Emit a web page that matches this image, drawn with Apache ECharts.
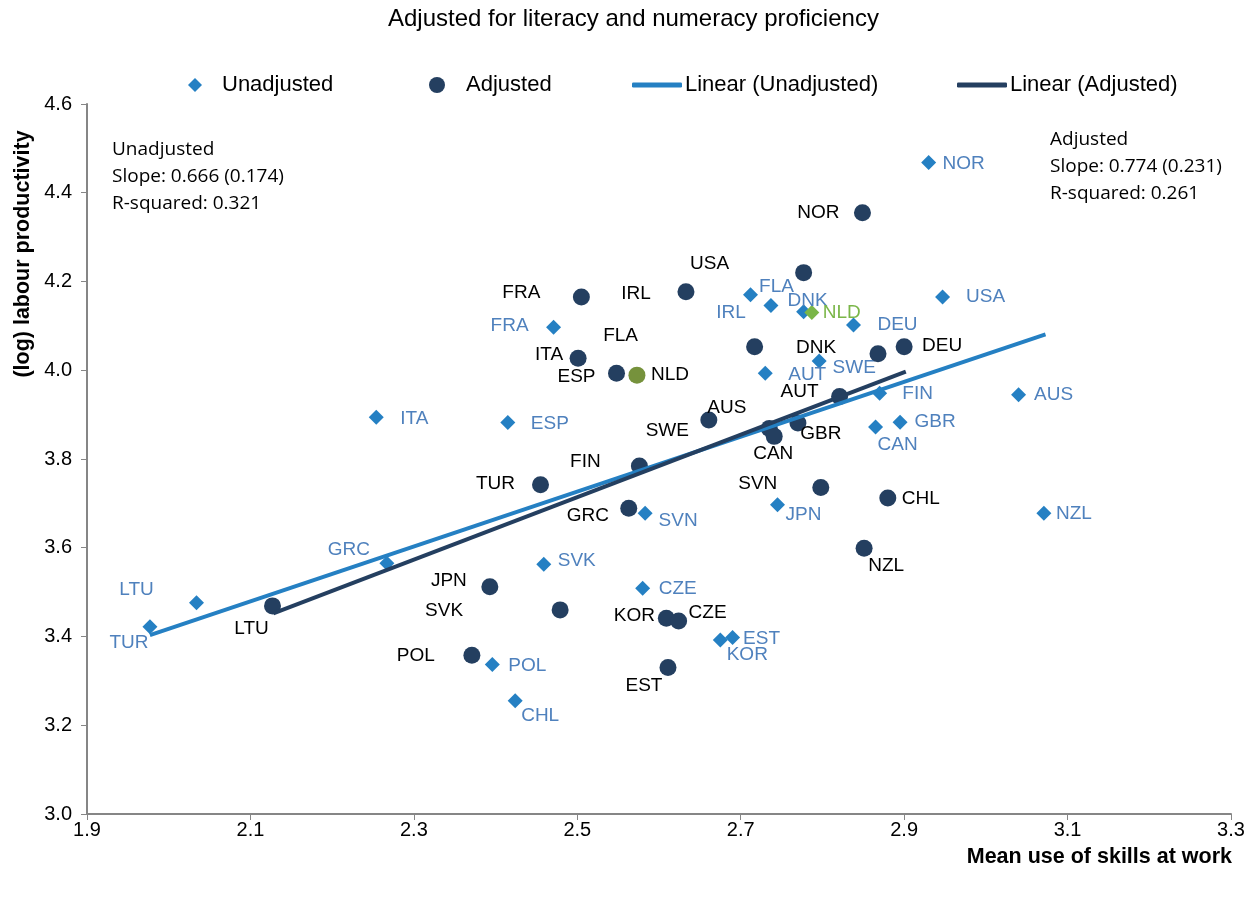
<!DOCTYPE html>
<html lang="en">
<head>
  <meta charset="UTF-8" />
  <title>Adjusted for literacy and numeracy proficiency</title>
  <script src="https://cdn.jsdelivr.net/npm/echarts@6/dist/echarts.min.js"></script>
  <style>
    html, body { margin: 0; padding: 0; background: #fff; }
    #main { width: 1250px; height: 897px; }
  </style>
</head>
<body>
  <div id="main"></div>
<script>
  // 未调整 (diamonds)
  var countriesU = ["NOR", "USA", "FLA", "IRL", "DNK", "NLD", "DEU", "FRA", "SWE", "AUT", "FIN", "AUS", "GBR", "CAN",
    "ITA", "ESP", "SVN", "JPN", "NZL", "GRC", "SVK", "LTU", "TUR", "CZE", "EST", "KOR", "POL", "CHL"];
  var skillsU = [2.930, 2.947, 2.712, 2.737, 2.777, 2.787, 2.838, 2.471, 2.796, 2.730, 2.870, 3.040, 2.895, 2.865,
    2.254, 2.415, 2.583, 2.745, 3.071, 2.267, 2.459, 2.034, 1.977, 2.580, 2.690, 2.675, 2.396, 2.424];
  var prodU = [4.468, 4.165, 4.170, 4.146, 4.132, 4.130, 4.102, 4.097, 4.021, 3.993, 3.948, 3.945, 3.883, 3.872,
    3.894, 3.882, 3.678, 3.697, 3.678, 3.565, 3.563, 3.476, 3.422, 3.509, 3.398, 3.392, 3.337, 3.255];

  // 调整后 (circles)
  var countriesA = ["NOR", "USA", "IRL", "FRA", "FLA", "ITA", "ESP", "NLD", "DNK", "DEU", "AUS", "SWE", "CAN", "GBR",
    "AUT", "FIN", "TUR", "GRC", "SVN", "CHL", "NZL", "JPN", "SVK", "LTU", "POL", "KOR", "CZE", "EST"];
  var skillsA = [2.849, 2.777, 2.633, 2.505, 2.717, 2.501, 2.548, 2.573, 2.868, 2.900, 2.661, 2.735, 2.741, 2.770,
    2.821, 2.576, 2.455, 2.563, 2.798, 2.880, 2.851, 2.393, 2.479, 2.127, 2.371, 2.609, 2.624, 2.611];
  var prodA = [4.355, 4.220, 4.177, 4.165, 4.053, 4.027, 3.993, 3.989, 4.037, 4.053, 3.888, 3.869, 3.851, 3.881,
    3.941, 3.784, 3.742, 3.689, 3.736, 3.712, 3.599, 3.512, 3.460, 3.469, 3.358, 3.441, 3.435, 3.330];

  // 趋势线端点
  var trendU = [[1.977, 3.403], [3.073, 4.081]];
  var trendA = [[2.128, 3.452], [2.902, 3.997]];

  // label offsets (px) from marker centre
  var labelOffU = {
    NOR: [35, 1], USA: [43, 0], FLA: [26, -8], IRL: [-40, 7], DNK: [4, -11], NLD: [30, 0], DEU: [44, 0],
    FRA: [-44, -1], SWE: [35, 7], AUT: [42, 1], FIN: [38, 0], AUS: [35, 0], GBR: [35, 0], CAN: [22, 18],
    ITA: [38, 1], ESP: [42, 1], SVN: [33, 8], JPN: [26, 10], NZL: [30, 1], GRC: [-38, -14], SVK: [33, -3],
    LTU: [-60, -13], TUR: [-21, 16], CZE: [35, 1], EST: [29, 1], KOR: [27, 15], POL: [35, 1], CHL: [25, 15]
  };
  var labelOffA = {
    NOR: [-44, 0], USA: [-94, -9], IRL: [-50, 2], FRA: [-60, -4], FLA: [-134, -11], ITA: [-29, -4],
    ESP: [-40, 3], NLD: [33, 0], DNK: [-62, -6], DEU: [38, -1], AUS: [18, -12], SWE: [-102, 2],
    CAN: [-1, 17], GBR: [23, 11], AUT: [-40, -5], FIN: [-54, -4], TUR: [-45, -1], GRC: [-41, 8],
    SVN: [-63, -4], CHL: [33, 1], NZL: [22, 18], JPN: [-41, -6], SVK: [-116, 1], LTU: [-21, 23],
    POL: [-56, 1], KOR: [-32, -3], CZE: [29, -8], EST: [-24, 18]
  };

  var colorU = "#2580c3";
  var colorA = "#243f60";
  var labelColorU = "#4f81bd";
  var FONT = "Liberation Sans";

  function buildData(names, xs, ys, offs, isAdj) {
    return names.map(function (n, i) {
      var item = {
        name: n,
        value: [xs[i], ys[i]],
        label: { offset: offs[n] }
      };
      if (n === "NLD") {
        item.itemStyle = { color: isAdj ? "#76923c" : "#7ab648" };
        if (!isAdj) item.label.color = "#7ab648";
      }
      return item;
    });
  }

  var myChart = echarts.init(document.getElementById("main"));

  function legendText(pad) {
    return { color: "#000", fontSize: 22, fontFamily: FONT, padding: [0, 0, 0, pad] };
  }

  var option = {
    animation: false,
    textStyle: { fontFamily: FONT },
    title: {
      text: "Adjusted for literacy and numeracy proficiency",
      left: 383,
      top: 2,
      textStyle: { fontSize: 24, fontWeight: "normal", color: "#000", fontFamily: FONT }
    },
    legend: [
      { data: [{ name: "Unadjusted", icon: "diamond" }], left: 183, top: 69, itemWidth: 14, itemHeight: 14, textStyle: legendText(15) },
      { data: [{ name: "Adjusted", icon: "circle" }], left: 424, top: 69, itemWidth: 16, itemHeight: 16, textStyle: legendText(16) },
      { data: [{ name: "Linear (Unadjusted)", icon: "roundRect" }], left: 627, top: 69, itemWidth: 50, itemHeight: 5, textStyle: legendText(-2) },
      { data: [{ name: "Linear (Adjusted)", icon: "roundRect" }], left: 952, top: 69, itemWidth: 50, itemHeight: 5, textStyle: legendText(-2) }
    ],
    grid: { left: 87, right: 19, top: 104, bottom: 83 },
    xAxis: {
      type: "value",
      min: 1.9,
      max: 3.3,
      interval: 0.2,
      splitLine: { show: false },
      axisLine: { lineStyle: { color: "#868686", width: 2 } },
      axisTick: { show: true, length: 6, lineStyle: { color: "#868686", width: 1 } },
      axisLabel: {
        color: "#000", fontSize: 20, margin: 6, fontFamily: FONT,
        formatter: function (v) { return v.toFixed(1); }
      }
    },
    yAxis: {
      type: "value",
      min: 3.0,
      max: 4.6,
      interval: 0.2,
      splitLine: { show: false },
      axisLine: { show: true, lineStyle: { color: "#868686", width: 2 } },
      axisTick: { show: true, length: 6, lineStyle: { color: "#868686", width: 1 } },
      axisLabel: {
        color: "#000", fontSize: 20, margin: 15, fontFamily: FONT,
        formatter: function (v) { return v.toFixed(1); }
      }
    },
    graphic: [
      {
        type: "text", left: 112, top: 136,
        style: {
          text: "Unadjusted\nSlope: 0.666 (0.174)\nR-squared: 0.321",
          font: "19px 'Open Sans'", fill: "#000", lineHeight: 27
        }
      },
      {
        type: "text", left: 1050, top: 126,
        style: {
          text: "Adjusted\nSlope: 0.774 (0.231)\nR-squared: 0.261",
          font: "19px 'Open Sans'", fill: "#000", lineHeight: 27
        }
      },
      {
        type: "text", x: 23, y: 254, rotation: Math.PI / 2,
        style: {
          text: "(log) labour productivity",
          font: "bold 21.5px 'Liberation Sans'", fill: "#000",
          align: "center", verticalAlign: "middle"
        }
      },
      {
        type: "text", right: 18, top: 846,
        style: {
          text: "Mean use of skills at work",
          font: "bold 21.5px 'Liberation Sans'", fill: "#000"
        }
      }
    ],
    series: [
      {
        name: "Unadjusted",
        type: "scatter",
        symbol: "diamond",
        symbolSize: 15,
        itemStyle: { color: colorU, opacity: 1 },
        label: { show: true, position: "inside", formatter: "{b}", color: labelColorU, fontSize: 19, fontFamily: FONT },
        data: buildData(countriesU, skillsU, prodU, labelOffU, false),
        z: 2
      },
      {
        name: "Adjusted",
        type: "scatter",
        symbol: "circle",
        symbolSize: 17,
        itemStyle: { color: colorA, opacity: 1 },
        label: { show: true, position: "inside", formatter: "{b}", color: "#000", fontSize: 19, fontFamily: FONT },
        data: buildData(countriesA, skillsA, prodA, labelOffA, true),
        z: 3
      },
      {
        name: "Linear (Unadjusted)",
        type: "line",
        symbol: "none",
        lineStyle: { color: colorU, width: 4 },
        itemStyle: { color: colorU },
        data: trendU,
        z: 5
      },
      {
        name: "Linear (Adjusted)",
        type: "line",
        symbol: "none",
        lineStyle: { color: colorA, width: 4 },
        itemStyle: { color: colorA },
        data: trendA,
        z: 6
      }
    ]
  };

  myChart.setOption(option);
</script>
</body>
</html>
